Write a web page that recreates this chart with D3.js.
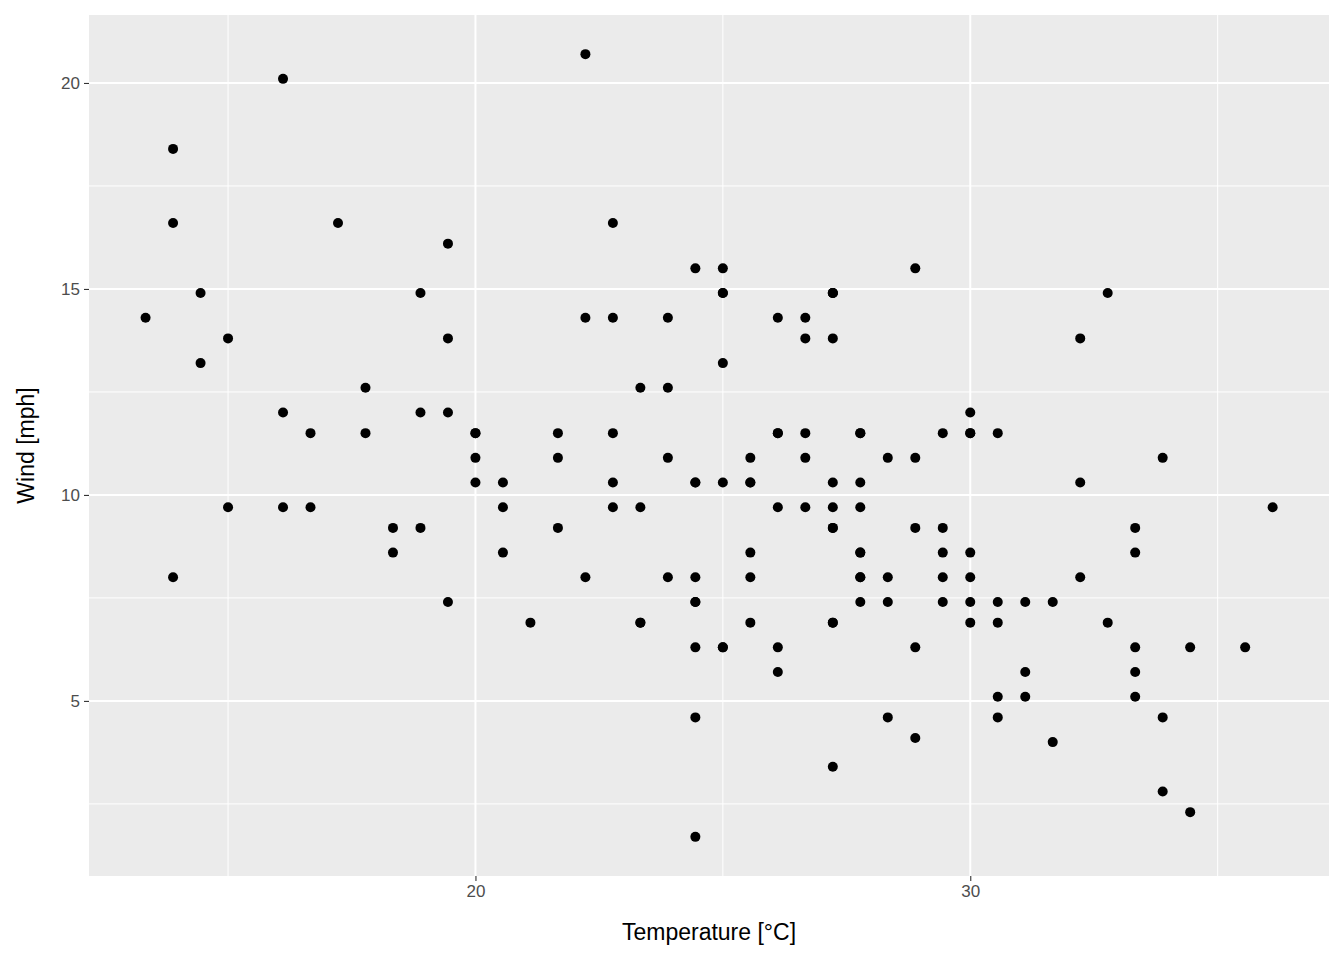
<!DOCTYPE html>
<html><head><meta charset="utf-8">
<script src="https://cdn.jsdelivr.net/npm/d3@7"></script>
<style>body{margin:0;background:#fff}</style></head>
<body><svg id="c" width="1344" height="960"></svg>
<script>
const windMph = [7.4,8.0,12.6,11.5,14.3,14.9,8.6,13.8,20.1,8.6,6.9,9.7,9.2,10.9,13.2,11.5,12.0,18.4,11.5,9.7,9.7,16.6,9.7,12.0,16.6,14.9,8.0,12.0,14.9,5.7,7.4,8.6,9.7,16.1,9.2,8.6,14.3,9.7,6.9,13.8,11.5,10.9,9.2,8.0,13.8,11.5,14.9,20.7,9.2,11.5,10.3,6.3,1.7,4.6,6.3,8.0,8.0,10.3,11.5,14.9,8.0,4.1,9.2,9.2,10.9,4.6,10.9,5.1,6.3,5.7,7.4,8.6,14.3,14.9,14.9,14.3,6.9,10.3,6.3,5.1,11.5,6.9,9.7,11.5,8.6,8.0,8.6,12.0,7.4,7.4,7.4,9.2,6.9,13.8,7.4,6.9,7.4,4.6,4.0,10.3,8.0,8.6,11.5,11.5,11.5,9.7,11.5,10.3,6.3,7.4,10.9,10.3,15.5,14.3,12.6,9.7,3.4,8.0,5.7,9.7,2.3,6.3,6.3,6.9,5.1,2.8,4.6,7.4,15.5,10.9,10.3,10.9,9.7,14.9,15.5,6.3,10.9,11.5,6.9,13.8,10.3,10.3,8.0,12.6,9.2,10.3,10.3,16.6,6.9,13.2,14.3,8.0,11.5];
const tempF = [67,72,74,62,56,66,65,59,61,69,74,69,66,68,58,64,66,57,68,62,59,73,61,61,57,58,57,67,81,79,76,78,74,67,84,85,79,82,87,90,87,93,92,82,80,79,77,72,65,73,76,77,76,76,76,75,78,73,80,77,83,84,85,81,84,83,83,88,92,92,89,82,73,81,91,80,81,82,84,87,85,74,81,82,86,85,82,86,88,86,83,81,81,81,82,86,85,87,89,90,90,92,86,86,82,80,79,77,79,76,78,78,77,72,75,79,81,86,88,97,94,96,94,91,92,93,93,87,84,80,78,75,73,81,76,77,71,71,78,67,76,68,82,64,71,81,69,63,70,77,75,76,68];
const xMajor = [20,30], xMinor = [15,25,35];
const yMajor = [5,10,15,20], yMinor = [2.5,7.5,12.5,17.5];

const tempC = tempF.map(f => (f-32)/1.8);
const data = tempC.map((t,i)=>({t, w: windMph[i]}));
const L=89,R=1329,T=15,B=876;
const x = d3.scaleLinear().domain([12.19,37.25]).range([L,R]);
const y = d3.scaleLinear().domain([0.75,21.65]).range([B,T]);
const svg = d3.select('#c');
svg.append('rect').attr('x',L).attr('y',T).attr('width',R-L).attr('height',B-T).attr('fill','#EBEBEB');
const g = svg.append('g');
xMinor.forEach(v=>g.append('line').attr('x1',x(v)).attr('x2',x(v)).attr('y1',T).attr('y2',B).attr('stroke','#fff').attr('stroke-width',1));
yMinor.forEach(v=>g.append('line').attr('y1',y(v)).attr('y2',y(v)).attr('x1',L).attr('x2',R).attr('stroke','#fff').attr('stroke-width',1));
xMajor.forEach(v=>g.append('line').attr('x1',x(v)).attr('x2',x(v)).attr('y1',T).attr('y2',B).attr('stroke','#fff').attr('stroke-width',2));
yMajor.forEach(v=>g.append('line').attr('y1',y(v)).attr('y2',y(v)).attr('x1',L).attr('x2',R).attr('stroke','#fff').attr('stroke-width',2));
svg.append('g').selectAll('circle').data(data).join('circle')
  .attr('cx',d=>x(d.t)).attr('cy',d=>y(d.w)).attr('r',5).attr('fill','#000');
const xa = svg.append('g').attr('transform',`translate(0,${B})`).call(d3.axisBottom(x).tickValues(xMajor).tickSize(5).tickPadding(4));
const ya = svg.append('g').attr('transform',`translate(${L},0)`).call(d3.axisLeft(y).tickValues(yMajor).tickSize(5).tickPadding(4));
[xa,ya].forEach(a=>{a.select('.domain').remove();a.selectAll('line').attr('stroke','#333').attr('stroke-width',1.1);
  a.selectAll('text').attr('fill','#4D4D4D').style('font-family','Liberation Sans, Arial, sans-serif').style('font-size','17px');});
svg.append('text').attr('x',(L+R)/2).attr('y',940).attr('text-anchor','middle').style('font-family','Liberation Sans, Arial, sans-serif').style('font-size','23px').text('Temperature [°C]');
svg.append('text').attr('transform',`translate(34,${(T+B)/2}) rotate(-90)`).attr('text-anchor','middle').style('font-family','Liberation Sans, Arial, sans-serif').style('font-size','23px').text('Wind [mph]');
</script></body></html>
